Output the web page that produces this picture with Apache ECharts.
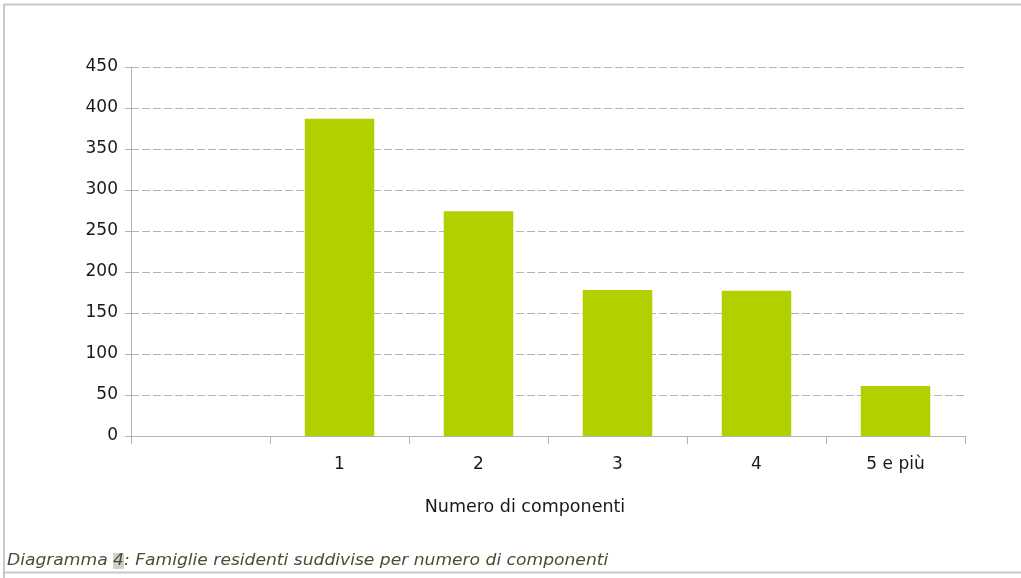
<!DOCTYPE html>
<html>
<head>
<meta charset="utf-8">
<script src="https://cdn.jsdelivr.net/npm/echarts@6/dist/echarts.min.js"></script>
<style>
  html, body { margin: 0; padding: 0; background: #fff; }
  #chart { width: 1021px; height: 578px; }
</style>
</head>
<body>
<div id="chart"></div>
<script>
// categorie (la prima è vuota, come nel grafico originale)
const categories = ['', '1', '2', '3', '4', '5 e più'];
// famiglie per numero di componenti
const famiglie = [null, 387, 274, 178, 177, 61];
const yTicks = { min: 0, max: 450, interval: 50 };

const labelFont = 'DejaVu Sans';

const chart = echarts.init(document.getElementById('chart'));
chart.setOption({
    animation: false,
    grid: { left: 131, right: 56, top: 67, bottom: 142 },
    xAxis: {
        type: 'category',
        data: categories,
        name: 'Numero di componenti',
        nameLocation: 'middle',
        nameGap: 62,
        nameTextStyle: {
            color: '#1a1a1a',
            fontFamily: labelFont,
            fontSize: 17.5,
            padding: [0, 46, 0, 0]
        },
        axisLine: { lineStyle: { color: '#b3b3b3', width: 1 } },
        axisTick: { show: true, length: 8, lineStyle: { color: '#b3b3b3' } },
        axisLabel: {
            color: '#1a1a1a',
            fontFamily: labelFont,
            fontSize: 17,
            margin: 20
        }
    },
    yAxis: {
        type: 'value',
        min: yTicks.min,
        max: yTicks.max,
        interval: yTicks.interval,
        axisLine: { show: true, lineStyle: { color: '#b3b3b3', width: 1 } },
        axisTick: { show: true, length: 6, lineStyle: { color: '#b3b3b3' } },
        axisLabel: {
            color: '#1a1a1a',
            fontFamily: labelFont,
            fontSize: 17,
            margin: 13
        },
        splitLine: {
            lineStyle: { color: '#b3b3b3', type: [8, 3], width: 1 }
        }
    },
    series: [{
        type: 'bar',
        data: famiglie,
        barWidth: '50%',
        itemStyle: { color: '#b2d000' }
    }],
    graphic: [
        // cornice della pagina
        { type: 'line', shape: { x1: 4, y1: 4.5, x2: 1021, y2: 4.5 }, style: { stroke: '#c8c8c8', lineWidth: 2 } },
        { type: 'line', shape: { x1: 4, y1: 4, x2: 4, y2: 578 }, style: { stroke: '#c8c8c8', lineWidth: 2 } },
        { type: 'line', shape: { x1: 4, y1: 572.5, x2: 1021, y2: 572.5 }, style: { stroke: '#c8c8c8', lineWidth: 2 } },
        // didascalia
        {
            type: 'text',
            x: 7,
            y: 553,
            scaleX: 1.07,
            style: {
                text: '{a|Diagramma }{b|4}{a|: Famiglie residenti suddivise per numero di componenti}',
                rich: {
                    a: { fontFamily: labelFont, fontStyle: 'italic', fontSize: 16, fill: '#4d4d33' },
                    b: { fontFamily: labelFont, fontStyle: 'italic', fontSize: 16, fill: '#4d4d33', backgroundColor: '#d0d0d0' }
                }
            }
        }
    ]
});
</script>
</body>
</html>
